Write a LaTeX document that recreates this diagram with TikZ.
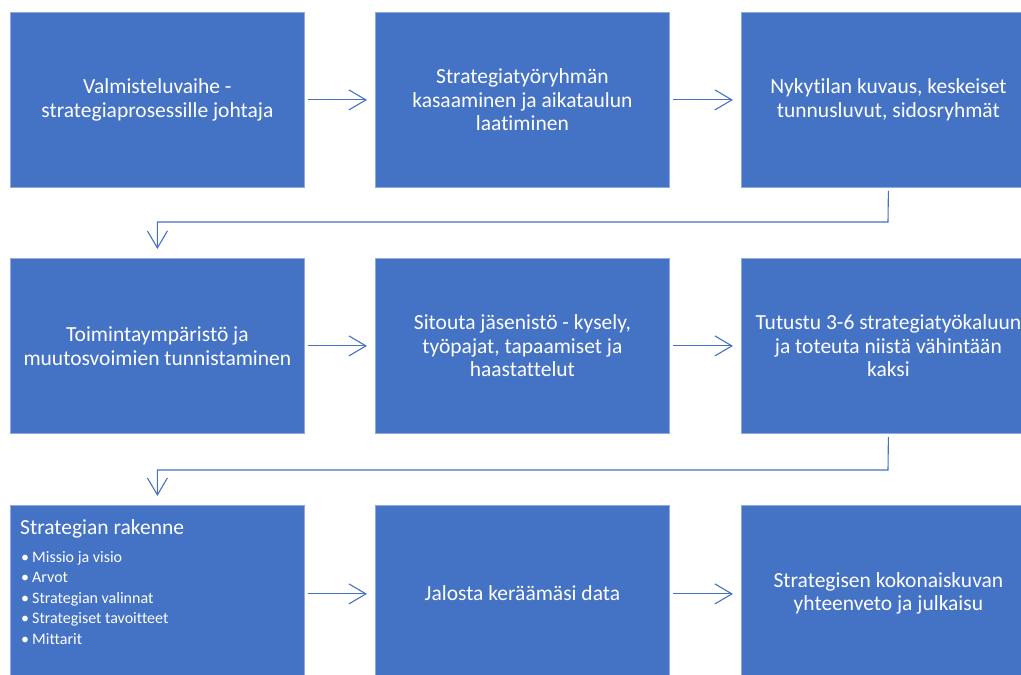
\documentclass[tikz,border=0pt]{standalone}
\usepackage{fontspec}
\setmainfont{Carlito}[Ligatures={NoCommon,NoContextual}]
\usetikzlibrary{arrows.meta}
\definecolor{stepblue}{HTML}{4472C4}
\definecolor{stepedge}{HTML}{8FAADC}
\begin{document}
\begin{tikzpicture}[x=1pt,y=-1pt,
  stepbox/.style={rectangle, fill=stepblue, draw=stepedge, line width=0.8pt,
    minimum width=294pt, minimum height=175pt, inner sep=0pt, anchor=north west,
    text=white, align=center, font=\fontsize{21.5}{23.7}\selectfont},
  flow/.style={draw=stepblue, line width=1.1pt,
    -{Straight Barb[length=17pt,width=20pt,line width=1.1pt]}},
  itemtext/.style={anchor=base west, inner sep=0pt, text=white,
    font=\fontsize{16}{18}\selectfont}]
\useasboundingbox (0,0) rectangle (1021,675);

% row 1
\node[stepbox] (b1) at (10,12) {Valmisteluvaihe -\\strategiaprosessille johtaja};
\node[stepbox] (b2) at (375,12) {Strategiatyöryhmän\\kasaaminen ja aikataulun\\laatiminen};
\node[stepbox] (b3) at (741,12) {Nykytilan kuvaus, keskeiset\\tunnusluvut, sidosryhmät};

% row 2
\node[stepbox] (b4) at (10,258) {Toimintaympäristö ja\\muutosvoimien tunnistaminen};
\node[stepbox] (b5) at (375,258) {Sitouta jäsenistö - kysely,\\työpajat, tapaamiset ja\\haastattelut};
\node[stepbox] (b6) at (741,258) {Tutustu 3-6 strategiatyökaluun\\ja toteuta niistä vähintään\\kaksi};

% row 3
\node[stepbox, minimum height=176pt] (b7) at (10,505) {};
\node[stepbox, minimum height=176pt] (b8) at (375,505) {Jalosta keräämäsi data};
\node[stepbox, minimum height=176pt] (b9) at (741,505) {Strategisen kokonaiskuvan\\yhteenveto ja julkaisu};

% structure list inside the first box of row 3
\node[anchor=base west, inner sep=0pt, text=white, font=\fontsize{21.5}{24}\selectfont]
  (b7h) at (20,534) {Strategian rakenne};
\foreach \txt [count=\i] in {Missio ja visio, Arvot, Strategian valinnat,
    Strategiset tavoitteet, Mittarit}
  \node[itemtext] (li\i) at (21,{541.5+20.5*\i}) {\makebox[11pt][l]{•}\txt};

% straight connectors within rows
\draw[flow] ([xshift=3pt]b1.east) -- ([xshift=-8pt]b2.west);
\draw[flow] ([xshift=3pt]b2.east) -- ([xshift=-8pt]b3.west);
\draw[flow] ([xshift=3pt]b4.east) -- ([xshift=-8pt]b5.west);
\draw[flow] ([xshift=3pt]b5.east) -- ([xshift=-8pt]b6.west);
\draw[flow] ([xshift=3pt,yshift=-0.5pt]b7.east) -- ([xshift=-8pt,yshift=-0.5pt]b8.west);
\draw[flow] ([xshift=3pt,yshift=-0.5pt]b8.east) -- ([xshift=-8pt,yshift=-0.5pt]b9.west);

% elbow connectors between rows
\coordinate (t1) at (888,222);
\draw[flow] ([yshift=-3pt]b3.south) -- (t1) -| ([yshift=9pt]b4.north);
\coordinate (t2) at (888,470);
\draw[flow] ([yshift=-3pt]b6.south) -- (t2) -| ([yshift=9pt]b7.north);
\end{tikzpicture}
\end{document}
